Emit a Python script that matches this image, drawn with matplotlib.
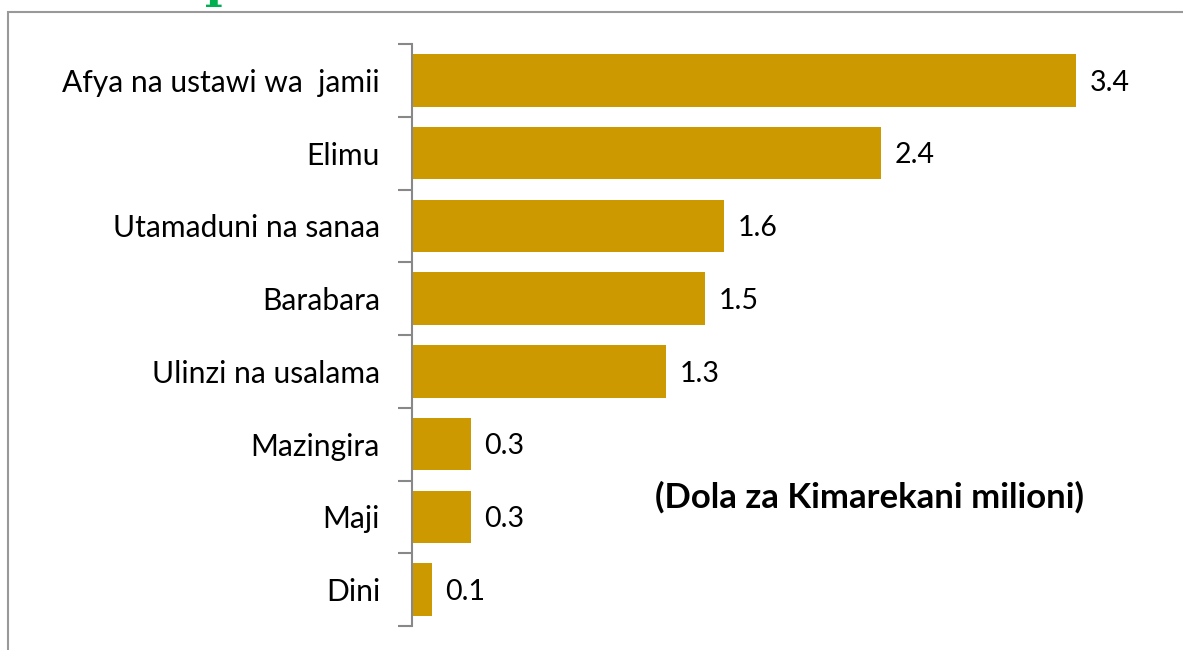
import matplotlib.pyplot as plt
from matplotlib.patches import Rectangle

# Sekta na kiasi (Dola za Kimarekani milioni)
sekta = ["Afya na ustawi wa  jamii", "Elimu", "Utamaduni na sanaa", "Barabara",
         "Ulinzi na usalama", "Mazingira", "Maji", "Dini"]
kiasi = [3.4, 2.4, 1.6, 1.5, 1.3, 0.3, 0.3, 0.1]
lebo = ["3.4", "2.4", "1.6", "1.5", "1.3", "0.3", "0.3", "0.1"]

W, H = 1183, 650
fig = plt.figure(figsize=(W / 100, H / 100), dpi=100)

# plot area in pixels: left 412, top 44, bottom 626
left, right, top, bottom = 412, 1170, 44, 626
ax = fig.add_axes([left / W, 1 - bottom / H, (right - left) / W, (bottom - top) / H])

pos = list(range(len(sekta)))
ax.barh(pos, kiasi, height=0.72, color="#CC9900")
ax.set_ylim(len(sekta) - 0.5, -0.5)
ax.set_xlim(0, (right - left) / 195.3)

for y, v, t in zip(pos, kiasi, lebo):
    ax.text(v + 0.07, y + 0.03, t, va="center", ha="left", fontsize=20.5, family="Lato")

ax.set_yticks([p - 0.5 for p in pos] + [len(sekta) - 0.5])
ax.set_yticklabels([])
ax.set_yticks(pos, minor=True)
ax.set_yticklabels(sekta, minor=True, fontsize=21.6, family="Lato")
ax.tick_params(axis="y", which="major", length=10, color="#888888", width=1.5)
ax.tick_params(axis="y", which="minor", length=0, pad=23)
ax.set_xticks([])
for s in ["top", "right", "bottom"]:
    ax.spines[s].set_visible(False)
ax.spines["left"].set_color("#888888")
ax.spines["left"].set_linewidth(1.5)

ax.text(0.604, 0.222, "(Dola za Kimarekani milioni)", transform=ax.transAxes,
        ha="center", va="center", fontsize=25, fontweight="bold", family="Lato")

# outer border of the slide chart
fig.patches.append(Rectangle((8 / W, -0.1), 1.2, 1 - 12 / H + 0.1, transform=fig.transFigure,
                             fill=False, edgecolor="#999999", linewidth=1.5))
# cut-off green title letter at the top
fig.text(214 / W, 1 - 7 / H, "I", color="#00B050", fontsize=30, fontweight="bold",
         family="DejaVu Serif", ha="center", va="baseline")

fig.savefig("out.png", dpi=100)
